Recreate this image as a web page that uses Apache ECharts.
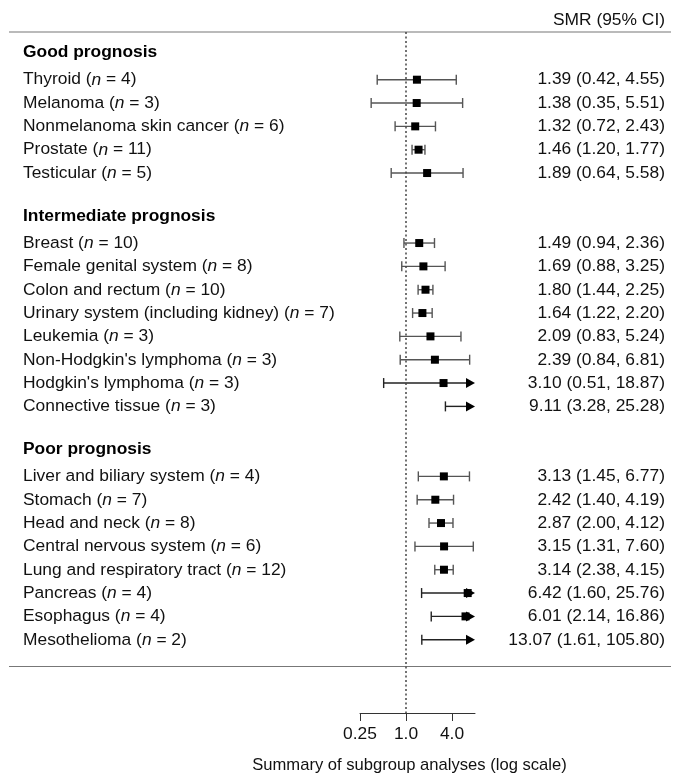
<!DOCTYPE html>
<html>
<head>
<meta charset="utf-8">
<script src="https://cdn.jsdelivr.net/npm/echarts@6/dist/echarts.min.js"></script>
<style>
html,body{margin:0;padding:0;background:#fff;}
#chart{width:681px;height:779px;}
</style>
</head>
<body>
<div id="chart"></div>
<script>
// ---- data ----
const groupNames = ['Good prognosis', 'Intermediate prognosis', 'Poor prognosis'];
const groupSizes = [5, 8, 8];
const sites = ['Thyroid', 'Melanoma', 'Nonmelanoma skin cancer', 'Prostate', 'Testicular',
  'Breast', 'Female genital system', 'Colon and rectum', 'Urinary system (including kidney)',
  'Leukemia', "Non-Hodgkin's lymphoma", "Hodgkin's lymphoma", 'Connective tissue',
  'Liver and biliary system', 'Stomach', 'Head and neck', 'Central nervous system',
  'Lung and respiratory tract', 'Pancreas', 'Esophagus', 'Mesothelioma'];
const nCounts = [4, 3, 6, 11, 5, 10, 8, 10, 7, 3, 3, 3, 3, 4, 7, 8, 6, 12, 4, 4, 2];
const smr   = [1.39, 1.38, 1.32, 1.46, 1.89, 1.49, 1.69, 1.80, 1.64, 2.09, 2.39, 3.10, 9.11,
               3.13, 2.42, 2.87, 3.15, 3.14, 6.42, 6.01, 13.07];
const lower = [0.42, 0.35, 0.72, 1.20, 0.64, 0.94, 0.88, 1.44, 1.22, 0.83, 0.84, 0.51, 3.28,
               1.45, 1.40, 2.00, 1.31, 2.38, 1.60, 2.14, 1.61];
const upper = [4.55, 5.51, 2.43, 1.77, 5.58, 2.36, 3.25, 2.25, 2.20, 5.24, 6.81, 18.87, 25.28,
               6.77, 4.19, 4.12, 7.60, 4.15, 25.76, 16.86, 105.80];
const tickValues = [0.25, 1, 4];
const tickLabels = ['0.25', '1.0', '4.0'];
const axisMin = 0.25, axisMax = 8, refValue = 1;
const headerText = 'SMR (95% CI)';
const axisTitle = 'Summary of subgroup analyses (log scale)';

// ---- build rows ----
const FONT = '"Liberation Sans", Arial, Helvetica, sans-serif';
const FS = 17.4;
const labelRows = []; // [x(dummy), row, kind, idx]
const ciRows = [];
let r = 0, k = 0;
groupSizes.forEach((size, g) => {
  labelRows.push([1, r, 0, g]);
  r++;
  for (let j = 0; j < size; j++, k++, r++) {
    labelRows.push([1, r, 1, k]);
    ciRows.push([Math.min(smr[k], axisMax), r, k]);
  }
  r++;
});

function fmt(v) { return v.toFixed(2); }

const chart = echarts.init(document.getElementById('chart'), null, {renderer: 'canvas'});
chart.setOption({
  animation: false,
  backgroundColor: '#fff',
  grid: {left: 360, width: 115, top: 32, height: 685},
  xAxis: {
    type: 'log', logBase: 2, min: axisMin, max: axisMax,
    splitLine: {show: false},
    axisLine: {show: true, onZero: false, lineStyle: {color: '#333', width: 1}},
    axisTick: {show: true, length: 8, customValues: tickValues, lineStyle: {color: '#333', width: 1}},
    axisLabel: {
      customValues: tickValues, margin: 13,
      fontFamily: FONT, fontSize: FS, color: '#111',
      formatter: function (v) {
        let best = 0;
        tickValues.forEach((t, i) => { if (Math.abs(Math.log(t) - Math.log(v)) < Math.abs(Math.log(tickValues[best]) - Math.log(v))) best = i; });
        return tickLabels[best];
      }
    },
    name: axisTitle, nameLocation: 'middle', nameGap: 44,
    nameTextStyle: {fontFamily: FONT, fontSize: 16.6, color: '#111', padding: [0, 16, 0, 0]}
  },
  yAxis: {type: 'value', min: -1.044, max: 28.14, inverse: true, show: false},
  graphic: [
    {type: 'line', shape: {x1: 9, y1: 32, x2: 671, y2: 32}, style: {stroke: '#777', lineWidth: 1.2}},
    {type: 'line', shape: {x1: 9, y1: 666.5, x2: 671, y2: 666.5}, style: {stroke: '#777', lineWidth: 1.2}},
    {type: 'text', x: 665, y: 20.5, style: {text: headerText, font: FS + 'px ' + FONT, fill: '#111', align: 'right', verticalAlign: 'middle'}}
  ],
  series: [
    {
      type: 'custom',
      clip: false,
      data: ciRows,
      encode: {x: 0, y: 1},
      renderItem: function (params, api) {
        const i = api.value(2);
        const row = api.value(1);
        const y = api.coord([refValue, row])[1];
        const xl = api.coord([lower[i], row])[0];
        const arrow = upper[i] > axisMax;
        const xh = api.coord([Math.min(upper[i], axisMax), row])[0];
        const cap = 5, aLen = 9, aHalf = 5, sq = 8;
        const ch = [];
        const lineStyle = {stroke: arrow ? '#222' : '#555', lineWidth: 1.4};
        ch.push({type: 'line', shape: {x1: xl, y1: y, x2: arrow ? xh - aLen + 1 : xh, y2: y}, style: lineStyle});
        ch.push({type: 'line', shape: {x1: xl, y1: y - cap, x2: xl, y2: y + cap}, style: lineStyle});
        if (!arrow) {
          ch.push({type: 'line', shape: {x1: xh, y1: y - cap, x2: xh, y2: y + cap}, style: lineStyle});
        }
        if (smr[i] <= axisMax) {
          const xs = api.coord([smr[i], row])[0];
          ch.push({type: 'rect', shape: {x: xs - sq / 2, y: y - sq / 2, width: sq, height: sq}, style: {fill: '#000'}});
        }
        if (arrow) {
          ch.push({type: 'polygon', shape: {points: [[xh, y], [xh - aLen, y - aHalf], [xh - aLen, y + aHalf]]}, style: {fill: '#000'}});
        }
        return {type: 'group', children: ch};
      },
      markLine: {
        silent: true, symbol: ['none', 'none'], label: {show: false},
        lineStyle: {type: [2, 2.5], color: '#444', width: 1.5},
        data: [{xAxis: refValue}]
      },
      z: 3
    },
    {
      type: 'custom',
      clip: false,
      data: labelRows,
      encode: {x: 0, y: 1},
      renderItem: function (params, api) {
        const row = api.value(1);
        const kind = api.value(2);
        const idx = api.value(3);
        const y = api.coord([refValue, row])[1];
        if (kind === 0) {
          return {type: 'text', x: 23, y: y - 4, style: {text: groupNames[idx], font: 'bold ' + FS + 'px ' + FONT, fill: '#000', align: 'left', verticalAlign: 'middle'}};
        }
        return {type: 'group', children: [
          {type: 'text', x: 23, y: y, style: {
            text: sites[idx] + ' ({i|n} = ' + nCounts[idx] + ')',
            font: FS + 'px ' + FONT, fill: '#111', align: 'left', verticalAlign: 'middle',
            rich: {i: {fontStyle: 'italic', fontSize: FS, fontFamily: FONT, fill: '#111'}}
          }},
          {type: 'text', x: 665, y: y, style: {
            text: fmt(smr[idx]) + ' (' + fmt(lower[idx]) + ', ' + fmt(upper[idx]) + ')',
            font: FS + 'px ' + FONT, fill: '#111', align: 'right', verticalAlign: 'middle'
          }}
        ]};
      }
    }
  ]
});
</script>
</body>
</html>
